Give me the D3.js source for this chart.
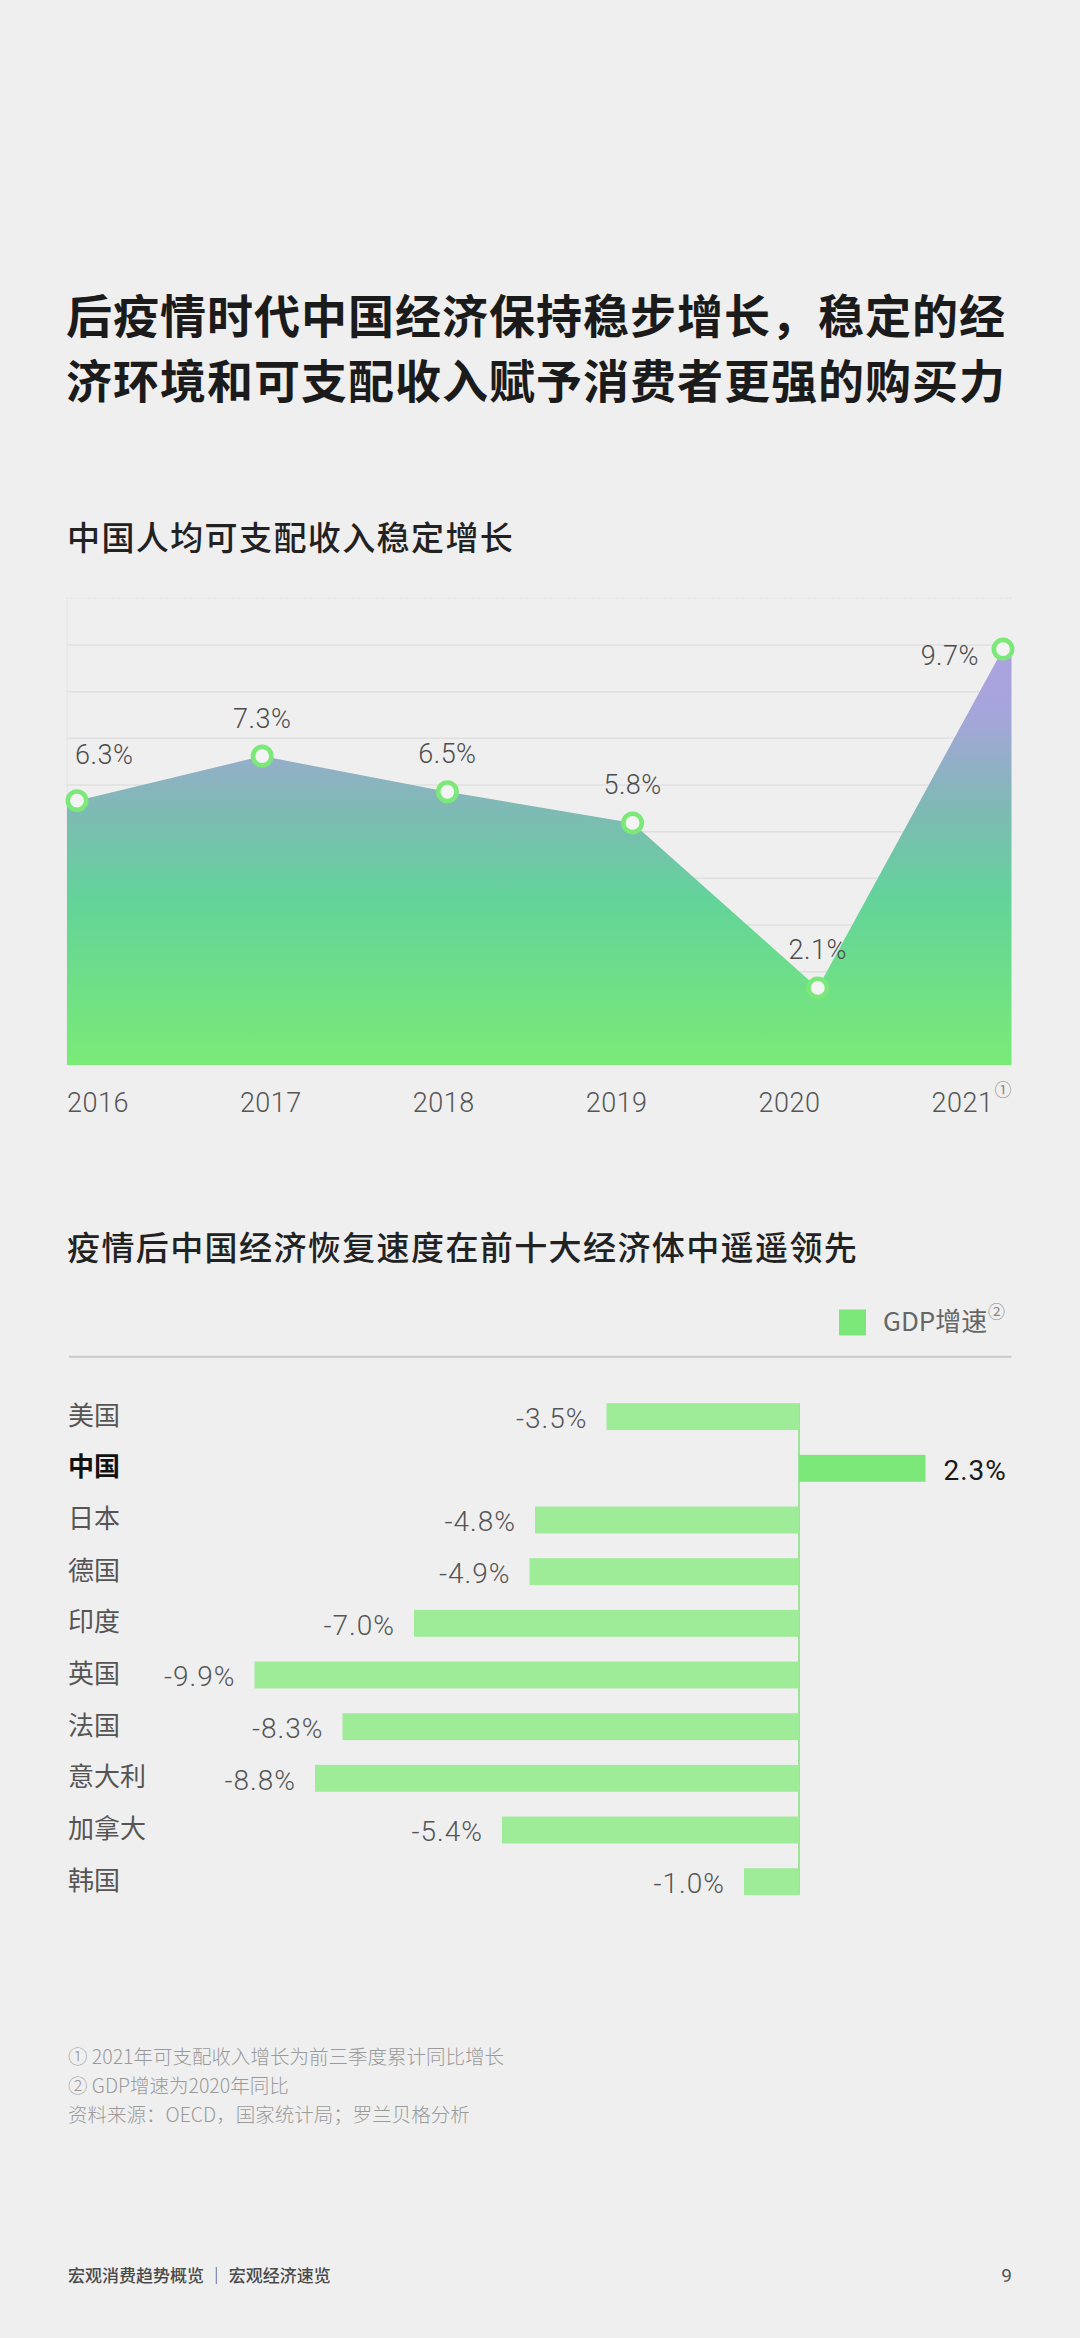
<!DOCTYPE html>
<html>
<head>
<meta charset="utf-8">
<script src="https://cdn.jsdelivr.net/npm/d3@7"></script>
<style>
  html, body { margin: 0; padding: 0; background: #efefef; }
  svg { display: block; }
</style>
</head>
<body>
<svg id="page"></svg>
<script>
// data
const years = ["2016", "2017", "2018", "2019", "2020", "2021"];
const incomeGrowth = [6.3, 7.3, 6.5, 5.8, 2.1, 9.7];
const countries = ["美国", "中国", "日本", "德国", "印度", "英国", "法国", "意大利", "加拿大", "韩国"];
const gdpGrowth = [-3.5, 2.3, -4.8, -4.9, -7.0, -9.9, -8.3, -8.8, -5.4, -1.0];
const highlight = "中国";
const titleLines = ["后疫情时代中国经济保持稳步增长，稳定的经", "济环境和可支配收入赋予消费者更强的购买力"];
const notes = ["① 2021年可支配收入增长为前三季度累计同比增长", "② GDP增速为2020年同比", "资料来源：OECD，国家统计局；罗兰贝格分析"];

const W = 1080, H = 2338;
const CJK = "'Noto Sans CJK SC', 'Noto Sans', sans-serif";
const NUM = "Roboto, 'Noto Sans', sans-serif";
const fmt = v => v.toFixed(1) + "%";

const svg = d3.select("#page").attr("width", W).attr("height", H);
svg.append("rect").attr("width", W).attr("height", H).attr("fill", "#efefef");

// title
svg.append("text")
    .attr("font-family", CJK).attr("font-size", 46).attr("font-weight", 700)
    .attr("letter-spacing", 1).attr("fill", "#1b1b1b")
    .selectAll("tspan").data(titleLines).join("tspan")
    .attr("x", 66).attr("y", (d, i) => 333 + i * 65)
    .text(d => d);

function subtitle(txt, y) {
    svg.append("text")
        .attr("x", 67).attr("y", y)
        .attr("font-family", CJK).attr("font-size", 33).attr("font-weight", 500)
        .attr("letter-spacing", 1.4).attr("fill", "#222")
        .text(txt);
}

// ---------- area chart ----------
subtitle("中国人均可支配收入稳定增长", 550);

const plotLeft = 67, plotRight = 1011.5, plotTop = 598.3, plotBottom = 1065;

const gridScale = d3.scaleLinear().domain([0, 10]).range([plotBottom, plotTop]);
const x = d3.scalePoint().domain(years).range([77, 1003]);
const y = d3.scaleLinear().domain([0.37, 10.84]).range([plotBottom, plotTop]);
const xLabel = d3.scalePoint().domain(years).range([plotLeft, plotRight - 80]);

svg.append("g").selectAll("line").data(d3.range(1, 11)).join("line")
    .attr("x1", plotLeft).attr("x2", plotRight)
    .attr("y1", d => gridScale(d)).attr("y2", d => gridScale(d))
    .attr("stroke", d => d === 10 ? "#e6e6e6" : "#e0e0e0")
    .attr("stroke-width", 1.5)
    .attr("stroke-dasharray", d => d === 10 ? "2,1" : null);

svg.append("line")
    .attr("x1", plotLeft).attr("x2", plotLeft)
    .attr("y1", plotTop).attr("y2", plotBottom)
    .attr("stroke", "#e4e4e4").attr("stroke-width", 1);

const defs = svg.append("defs");
const grad = defs.append("linearGradient").attr("id", "areaGrad")
    .attr("gradientUnits", "userSpaceOnUse")
    .attr("x1", 0).attr("x2", 0)
    .attr("y1", y(d3.max(incomeGrowth))).attr("y2", plotBottom);
[[0, "#aba2e0"], [0.16, "#a6a5da"], [0.38, "#7fb9b5"], [0.6, "#63d39a"], [1, "#7aeb76"]].forEach(([o, c]) => {
    grad.append("stop").attr("offset", o).attr("stop-color", c);
});

const pts = years.map((yr, i) => ({ x: x(yr), v: incomeGrowth[i] }));
const areaPts = [{ x: plotLeft, v: incomeGrowth[0] }, ...pts, { x: plotRight, v: incomeGrowth[incomeGrowth.length - 1] }];

const area = d3.area()
    .x(d => d.x)
    .y0(plotBottom)
    .y1(d => y(d.v));

svg.append("path")
    .datum(areaPts)
    .attr("d", area)
    .attr("fill", "url(#areaGrad)");

svg.append("g").selectAll("circle").data(pts).join("circle")
    .attr("cx", d => d.x).attr("cy", d => y(d.v))
    .attr("r", 9.2)
    .attr("fill", "#f4f4f4")
    .attr("stroke", "#7de87a")
    .attr("stroke-width", 4.6);

const last = pts.length - 1;
svg.append("g").selectAll("text").data(pts).join("text")
    .attr("x", (d, i) => i === 0 ? plotLeft + 8 : i === last ? d.x - 24 : d.x)
    .attr("y", (d, i) => y(d.v) + (i === 0 ? -46 : i === last ? 6 : -38))
    .attr("dy", "0.35em")
    .attr("text-anchor", (d, i) => i === 0 ? "start" : i === last ? "end" : "middle")
    .attr("font-family", NUM).attr("font-size", 27).attr("font-weight", 300)
    .attr("letter-spacing", 0.5)
    .attr("fill", "#4d4d4d")
    .text(d => fmt(d.v));

svg.append("g").selectAll("text").data(years).join("text")
    .attr("x", d => xLabel(d)).attr("y", 1112)
    .attr("font-family", NUM).attr("font-size", 27).attr("font-weight", 300)
    .attr("letter-spacing", 0.5)
    .attr("fill", "#555")
    .text(d => d);

svg.append("text")
    .attr("x", xLabel(years[last]) + 63).attr("y", 1096)
    .attr("font-family", CJK).attr("font-size", 17).attr("fill", "#888")
    .text("①");

// ---------- bar chart ----------
subtitle("疫情后中国经济恢复速度在前十大经济体中遥遥领先", 1260);

// legend
svg.append("rect").attr("x", 839).attr("y", 1309.5).attr("width", 27).attr("height", 26)
    .attr("fill", "#7be779");
svg.append("text").attr("x", 883).attr("y", 1331)
    .attr("font-family", CJK).attr("font-size", 26).attr("fill", "#666")
    .text("GDP增速");
svg.append("text").attr("x", 988).attr("y", 1318)
    .attr("font-family", CJK).attr("font-size", 17).attr("fill", "#888")
    .text("②");

svg.append("line")
    .attr("x1", 69).attr("x2", plotRight)
    .attr("y1", 1356.7).attr("y2", 1356.7)
    .attr("stroke", "#c9c9c9").attr("stroke-width", 2);

const bx = d3.scaleLinear().domain([-10, 2.5]).range([249, 936.5]);
const by = d3.scaleBand().domain(countries).range([1390.8, 1907.5])
    .paddingInner(0.48).paddingOuter(0.24);

const bars = countries.map((c, i) => ({ c, v: gdpGrowth[i] }));

svg.append("line")
    .attr("x1", bx(0)).attr("x2", bx(0))
    .attr("y1", by(countries[0])).attr("y2", by(countries[countries.length - 1]) + by.bandwidth())
    .attr("stroke", "#9de497").attr("stroke-width", 2);

svg.append("g").selectAll("rect").data(bars).join("rect")
    .attr("x", d => bx(Math.min(0, d.v)))
    .attr("width", d => Math.abs(bx(d.v) - bx(0)))
    .attr("y", d => by(d.c))
    .attr("height", by.bandwidth())
    .attr("fill", d => d.c === highlight ? "#7ae778" : "#9eeb98");

svg.append("g").selectAll("text").data(bars).join("text")
    .attr("x", 68).attr("y", d => by(d.c) + by.bandwidth() / 2 + 8)
    .attr("font-family", CJK).attr("font-size", 26)
    .attr("font-weight", d => d.c === highlight ? 700 : 400)
    .attr("fill", d => d.c === highlight ? "#111" : "#555")
    .text(d => d.c);

svg.append("g").selectAll("text").data(bars).join("text")
    .attr("x", d => d.v < 0 ? bx(d.v) - 19 : bx(d.v) + 18)
    .attr("y", d => by(d.c) + by.bandwidth() / 2 + 11.5)
    .attr("text-anchor", d => d.v < 0 ? "end" : "start")
    .attr("font-family", NUM).attr("font-size", 28)
    .attr("letter-spacing", 1)
    .attr("font-weight", d => d.c === highlight ? 400 : 300)
    .attr("fill", d => d.c === highlight ? "#1a1a1a" : "#555")
    .text(d => fmt(d.v));

// ---------- notes & footer ----------
svg.append("g").selectAll("text").data(notes).join("text")
    .attr("x", 68).attr("y", (d, i) => 2064 + i * 29)
    .attr("font-family", CJK).attr("font-size", 19.5).attr("font-weight", 300)
    .attr("fill", "#9a9a9a")
    .text(d => d);

svg.append("text").attr("x", 68).attr("y", 2282)
    .attr("font-family", CJK).attr("font-size", 17).attr("font-weight", 500)
    .attr("fill", "#4a4a4a")
    .text("宏观消费趋势概览 ｜ 宏观经济速览");
svg.append("text").attr("x", 1012).attr("y", 2282)
    .attr("text-anchor", "end")
    .attr("font-family", NUM).attr("font-size", 19).attr("fill", "#555")
    .text("9");
</script>
</body>
</html>
